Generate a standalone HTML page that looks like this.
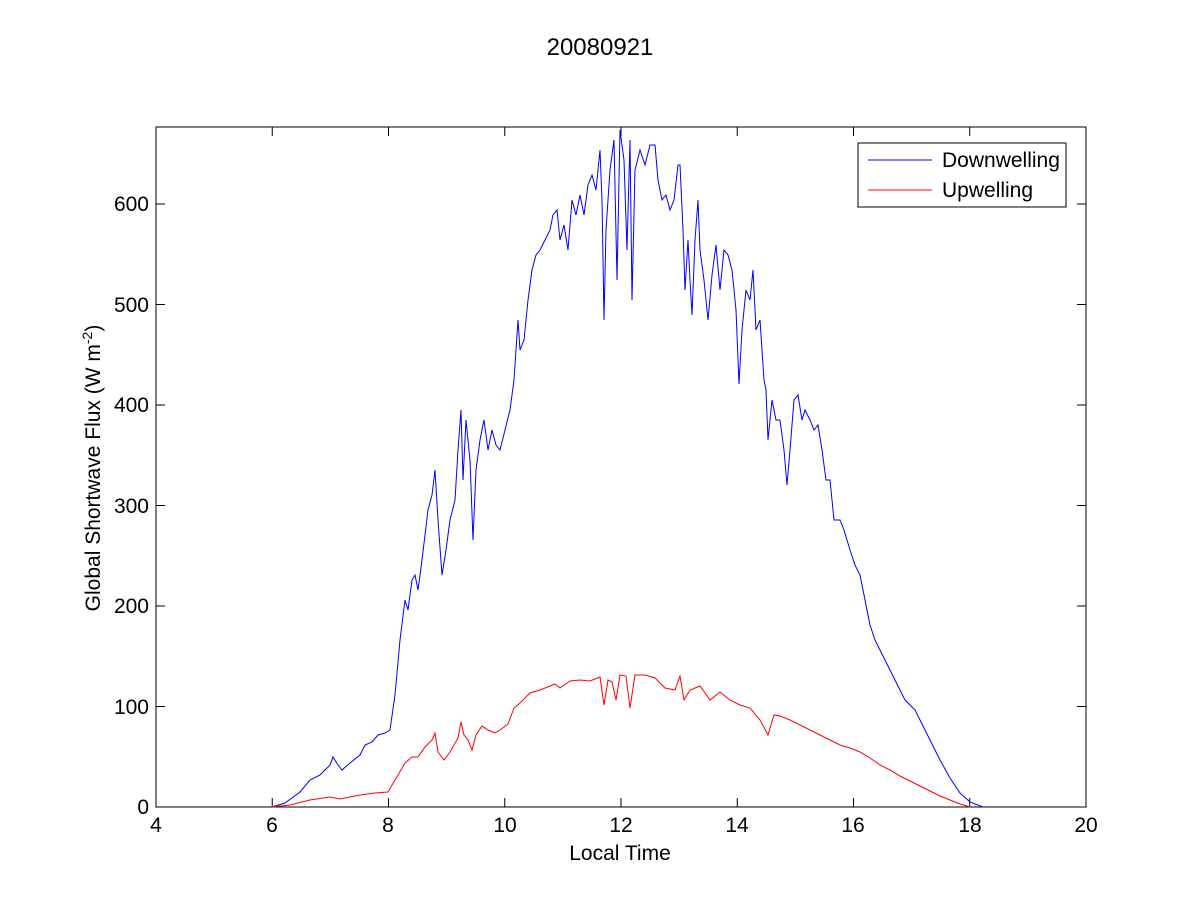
<!DOCTYPE html>
<html><head><meta charset="utf-8"><style>
body{margin:0;background:#fff;}
svg text{font-family:"Liberation Sans",sans-serif;font-size:21px;fill:#000;}
</style></head><body>
<svg width="1200" height="900" xmlns="http://www.w3.org/2000/svg">
<rect width="1200" height="900" fill="#fff"/>
<rect x="156" y="127" width="930" height="680" fill="#fff" stroke="#000" stroke-width="1"/>
<g stroke="#000" stroke-width="1">
<path d="M156 807v-9M272.25 807v-9M388.5 807v-9M504.75 807v-9M621 807v-9M737.25 807v-9M853.5 807v-9M969.75 807v-9M1086 807v-9
M156 127v9M272.25 127v9M388.5 127v9M504.75 127v9M621 127v9M737.25 127v9M853.5 127v9M969.75 127v9M1086 127v9"/>
<path d="M156 807h9M156 706.5h9M156 606h9M156 505.5h9M156 405h9M156 304.5h9M156 204h9
M1086 807h-9M1086 706.5h-9M1086 606h-9M1086 505.5h-9M1086 405h-9M1086 304.5h-9M1086 204h-9"/>
</g>
<g text-anchor="middle">
<text x="156" y="832">4</text><text x="272" y="832">6</text><text x="388" y="832">8</text>
<text x="505" y="832">10</text><text x="621" y="832">12</text><text x="737" y="832">14</text>
<text x="853" y="832">16</text><text x="970" y="832">18</text><text x="1086" y="832">20</text>
<text x="620" y="860">Local Time</text>
<text x="600" y="55" style="font-size:24px">20080921</text>
</g>
<g text-anchor="end">
<text x="149" y="814">0</text><text x="149" y="714">100</text><text x="149" y="613">200</text>
<text x="149" y="513">300</text><text x="149" y="412">400</text><text x="149" y="312">500</text><text x="149" y="211">600</text>
</g>
<text transform="translate(100,468) rotate(-90)" text-anchor="middle">Global Shortwave Flux (W m<tspan dy="-8" font-size="14">-2</tspan><tspan dy="8">)</tspan></text>
<polyline fill="none" stroke="#0000ff" stroke-width="1" points="272,807 285,803 300,792 310,780 320,775 330,765 333,757 338,765 342,770 350,763 360,755 365,745 372,742 378,735 385,733 390,730 395,695 400,640 405,600 408,610 412,580 415,575 418,590 422,560 428,510 432,495 435,470 438,520 442,575 446,550 450,520 455,500 458,450 461,410 463,480 466,420 470,460 473,540 476,470 480,440 484,420 488,450 492,430 496,445 500,450 505,430 510,410 514,380 518,320 520,350 524,340 528,300 532,270 536,255 540,250 545,240 550,230 553,215 557,210 560,240 564,225 568,250 572,200 576,215 580,195 584,215 588,185 592,175 596,190 600,150 602,200 604,320 606,230 610,170 614,140 617,280 620,130 624,160 627,250 630,140 632,300 635,170 640,150 645,165 650,145 655,145 658,180 662,200 666,195 670,210 674,200 678,165 680,165 683,230 685,290 688,240 690,280 692,315 695,240 698,200 700,250 704,280 708,320 712,275 716,245 720,290 724,250 728,255 732,270 736,310 739,384 742,330 746,290 750,300 753,270 756,330 760,320 764,380 766,390 768,440 772,400 776,420 780,420 784,450 787,485 790,450 794,400 798,395 802,420 805,410 810,420 814,430 818,425 822,450 826,480 830,480 834,520 840,520 844,530 850,550 855,565 860,575 865,600 870,625 875,640 880,650 885,660 890,670 895,680 900,690 905,700 910,705 915,710 920,720 930,740 940,760 950,778 960,793 970,802 983,807"/>
<polyline fill="none" stroke="#ff0000" stroke-width="1" points="272,807 290,805 310,800 330,797 340,799 350,797 360,795 375,793 388,792 392,785 398,775 405,763 412,757 418,757 425,747 432,740 435,733 438,752 444,760 450,752 458,738 461,722 464,735 468,740 472,750 476,735 482,726 488,730 495,733 500,730 508,724 514,708 520,703 530,693 540,690 550,686 555,684 560,688 570,681 580,680 590,681 600,677 604,705 608,680 612,682 616,700 620,675 626,676 630,708 635,675 645,675 655,678 665,688 675,690 680,676 684,700 690,690 700,686 710,700 720,692 730,700 740,705 750,708 760,720 768,735 774,715 780,716 790,720 800,725 810,730 820,735 830,740 840,745 850,748 860,752 870,758 880,765 890,770 900,776 920,786 940,796 960,804 970,807"/>
<rect x="858" y="143" width="208" height="64" fill="#fff" stroke="#000" stroke-width="1"/>
<line x1="868" y1="160" x2="932" y2="160" stroke="#0000ff"/>
<line x1="868" y1="190" x2="932" y2="190" stroke="#ff0000"/>
<text x="942" y="167">Downwelling</text>
<text x="942" y="197">Upwelling</text>
</svg>
</body></html>
